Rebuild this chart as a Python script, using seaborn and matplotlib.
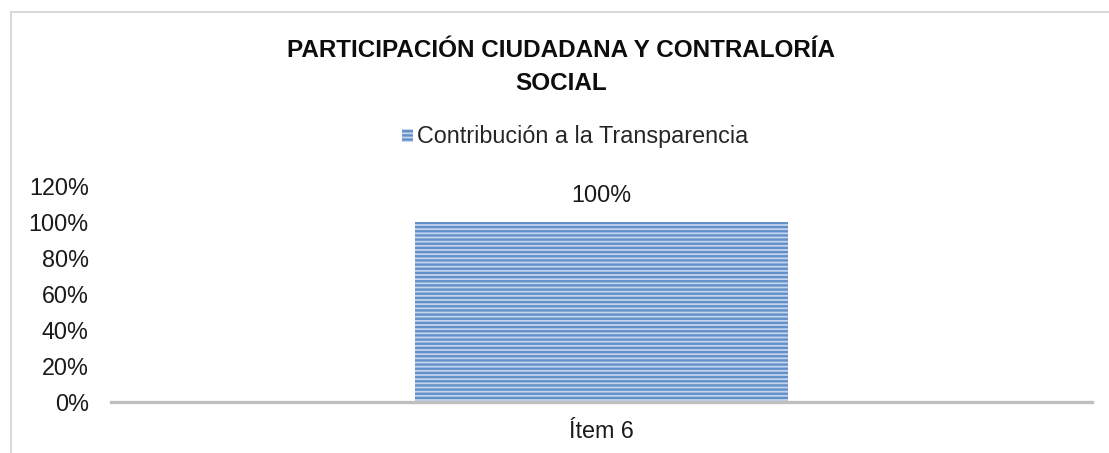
import matplotlib
matplotlib.use("Agg")
import matplotlib.pyplot as plt
import seaborn as sns
import pandas as pd
from matplotlib.patches import Rectangle

categories = ["Ítem 6"]
values = [100]
series_name = "Contribución a la Transparencia"
yticks = [0, 20, 40, 60, 80, 100, 120]
ytick_labels = ["0%", "20%", "40%", "60%", "80%", "100%", "120%"]
title = "PARTICIPACIÓN CIUDADANA Y CONTRALORÍA\nSOCIAL"

sns.set_theme(style="white")
plt.rcParams["font.family"] = ["Liberation Sans", "DejaVu Sans"]
plt.rcParams["hatch.linewidth"] = 1.7
plt.rcParams["hatch.color"] = "#6290c8"

df = pd.DataFrame({"cat": categories, "val": values, "series": [series_name]})

fig = plt.figure(figsize=(11.09, 4.53), dpi=100)
ax = fig.add_axes([111 / 1109, 51 / 453, (1092 - 111) / 1109, (402 - 186) / 453])

sns.barplot(data=df, x="cat", y="val", hue="series", ax=ax, width=0.38,
            palette=["#c4d5ed"], saturation=1, legend=False)
for p in ax.patches:
    p.set_hatch("----")
    p.set_edgecolor("#6290c8")
    p.set_linewidth(0)

fs = 16.8
ax.set_ylim(0, 120)
ax.set_xlim(-0.5, 0.5)
ax.set_yticks(yticks)
ax.set_yticklabels(ytick_labels, fontsize=fs, color="#1a1a1a")
ax.tick_params(axis="x", labelsize=fs, colors="#1a1a1a", pad=13, length=0)
ax.tick_params(axis="y", pad=16, length=0)
ax.set_xlabel("")
ax.set_ylabel("")
for s in ["top", "right", "left"]:
    ax.spines[s].set_visible(False)
ax.spines["bottom"].set_color("#bfbfbf")
ax.spines["bottom"].set_linewidth(2.4)

for p, v in zip(ax.patches, values):
    ax.annotate(f"{v}%", (p.get_x() + p.get_width() / 2, p.get_height()),
                xytext=(0, 11), textcoords="offset points", ha="center", va="bottom",
                fontsize=fs, color="#1a1a1a")

# legend
handle = Rectangle((0, 0), 1, 1, facecolor="#c4d5ed", edgecolor="#6290c8", hatch="----", linewidth=0)
fig.legend([handle], [series_name], loc="center", bbox_to_anchor=(575 / 1109, 1 - 137 / 453),
           frameon=False, fontsize=fs, handlelength=0.5, handleheight=0.5, handletextpad=0.15)

fig.text(561 / 1109, 1 - 67 / 453, title, ha="center", va="center", fontsize=17.5,
         fontweight="bold", color="#0d0d0d", linespacing=1.55)

# chart area border (top and left visible)
fig.add_artist(plt.Line2D([11 / 1109, 1.0], [1 - 12 / 453, 1 - 12 / 453], transform=fig.transFigure,
                          color="#d9d9d9", linewidth=1.5))
fig.add_artist(plt.Line2D([11 / 1109, 11 / 1109], [0, 1 - 12 / 453], transform=fig.transFigure,
                          color="#d9d9d9", linewidth=1.5))

fig.savefig("out.png", dpi=100, facecolor="white")
